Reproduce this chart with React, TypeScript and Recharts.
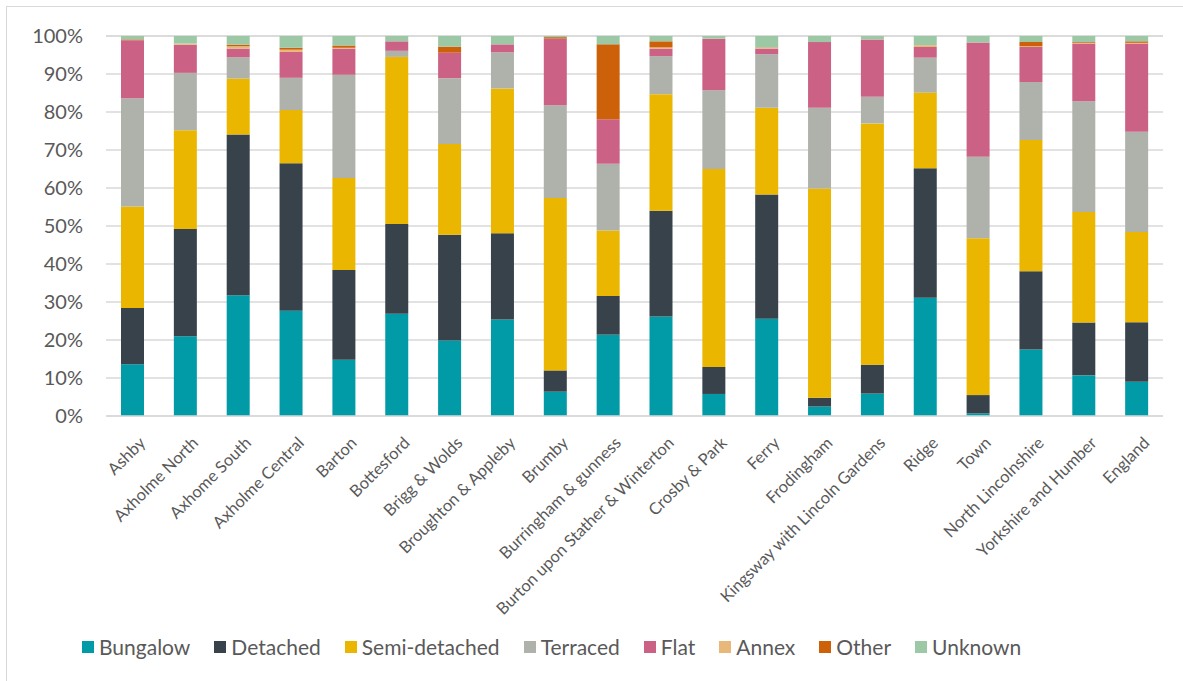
import React from 'react';
import { BarChart, Bar, XAxis, YAxis, CartesianGrid, Legend } from 'recharts';

const categories = [
  'Ashby', 'Axholme North', 'Axhome South', 'Axholme Central', 'Barton', 'Bottesford',
  'Brigg & Wolds', 'Broughton & Appleby', 'Brumby', 'Burringham & gunness',
  'Burton upon Stather & Winterton', 'Crosby & Park', 'Ferry', 'Frodingham',
  'Kingsway with Lincoln Gardens', 'Ridge', 'Town', 'North Lincolnshire',
  'Yorkshire and Humber', 'England',
];

const bungalow = [13.6, 21.0, 31.8, 27.7, 14.8, 26.9, 19.9, 25.4, 6.4, 21.4, 26.2, 5.8, 25.6, 2.5, 5.9, 31.1, 0.7, 17.5, 10.7, 9.0];
const detached = [14.8, 28.2, 42.3, 38.8, 23.6, 23.6, 27.8, 22.7, 5.6, 10.2, 27.8, 7.1, 32.7, 2.3, 7.6, 34.1, 4.8, 20.6, 13.9, 15.7];
const semiDetached = [26.7, 26.0, 14.7, 14.0, 24.2, 44.0, 23.9, 38.1, 45.4, 17.2, 30.7, 52.1, 22.8, 55.1, 63.5, 19.9, 41.3, 34.5, 29.1, 23.7];
const terraced = [28.5, 15.1, 5.6, 8.5, 27.2, 1.6, 17.3, 9.5, 24.4, 17.6, 10.0, 20.7, 14.1, 21.2, 7.0, 9.2, 21.4, 15.3, 29.1, 26.4];
const flat = [15.3, 7.4, 2.3, 6.8, 6.9, 2.5, 6.7, 2.1, 17.5, 11.7, 2.0, 13.6, 1.5, 17.3, 15.1, 2.8, 30.1, 9.2, 15.2, 23.2];
const annex = [0, 0.3, 0.6, 0.6, 0.2, 0, 0, 0, 0, 0, 0.3, 0, 0.2, 0, 0, 0.5, 0, 0.2, 0.2, 0.2];
const other = [0.2, 0, 0.4, 0.5, 0.6, 0, 1.6, 0, 0.4, 19.7, 1.6, 0, 0.1, 0, 0, 0, 0, 1.1, 0.2, 0.4];
const unknown = [0.9, 2.0, 2.3, 3.1, 2.5, 1.4, 2.8, 2.2, 0.3, 2.2, 1.4, 0.7, 3.0, 1.6, 0.9, 2.4, 1.7, 1.6, 1.6, 1.4];

const yTicks = [0, 10, 20, 30, 40, 50, 60, 70, 80, 90, 100];

const series = [
  { key: 'Bungalow', values: bungalow, color: '#009BA6' },
  { key: 'Detached', values: detached, color: '#37424A' },
  { key: 'Semi-detached', values: semiDetached, color: '#EAB600' },
  { key: 'Terraced', values: terraced, color: '#AEB2AB' },
  { key: 'Flat', values: flat, color: '#CB6285' },
  { key: 'Annex', values: annex, color: '#E8B87A' },
  { key: 'Other', values: other, color: '#CC610A' },
  { key: 'Unknown', values: unknown, color: '#9DC8A5' },
];

const data = categories.map((name, i) => {
  const row: Record<string, string | number> = { name };
  series.forEach((s) => { row[s.key] = s.values[i]; });
  return row;
});

const FONT = 'Lato, "Open Sans", sans-serif';

// rotated category label, top-right corner pinned just below the axis
const XTick = (props: any) => {
  const { x, y, payload } = props;
  const ax = x + 5;
  const ay = y + 11;
  return (
    <text
      x={ax}
      y={ay}
      transform={`rotate(-45, ${ax}, ${ay})`}
      textAnchor="end"
      dominantBaseline="hanging"
      fontSize={16.5}
      fontFamily={FONT}
      fill="#595959"
    >
      {payload.value}
    </text>
  );
};

const LegendContent = () => (
  <div style={{ display: 'flex', justifyContent: 'flex-start', paddingLeft: 82, gap: 24, fontFamily: FONT, fontSize: 21, color: '#595959' }}>
    {series.map((s) => (
      <div key={s.key} style={{ display: 'flex', alignItems: 'center' }}>
        <span style={{ display: 'inline-block', width: 12, height: 12, background: s.color, marginRight: 5 }} />
        <span>{s.key}</span>
      </div>
    ))}
  </div>
);

export default function App() {
  return (
    <div style={{ position: 'absolute', left: 0, top: 0, width: 1183, height: 681, background: '#fff', overflow: 'hidden' }}>
      <div style={{ position: 'absolute', left: 6, top: 6, width: 1200, height: 700, border: '1px solid #D9D9D9' }} />
      <BarChart
        width={1183}
        height={681}
        data={data}
        margin={{ top: 36, right: 20, bottom: 0, left: 0 }}
        barSize={23}
      >
        <CartesianGrid vertical={false} stroke="#D9D9D9" strokeWidth={1.5} />
        <XAxis
          dataKey="name"
          interval={0}
          height={265}
          tick={<XTick />}
          tickLine={false}
          axisLine={{ stroke: '#D9D9D9', strokeWidth: 1.5 }}
        />
        <YAxis
          domain={[0, 100]}
          ticks={yTicks}
          width={106}
          tickLine={false}
          axisLine={false}
          tickMargin={17}
          tickFormatter={(v: number) => `${v}%`}
          tick={{ fontSize: 20, fontFamily: FONT, fill: '#595959' }}
        />
        <Legend
          content={<LegendContent />}
          wrapperStyle={{ position: 'absolute', top: 634, left: 0, width: 1183, height: 0, overflow: 'visible' }}
        />
        {series.map((s) => (
          <Bar key={s.key} dataKey={s.key} stackId="a" fill={s.color} isAnimationActive={false} />
        ))}
      </BarChart>
    </div>
  );
}
